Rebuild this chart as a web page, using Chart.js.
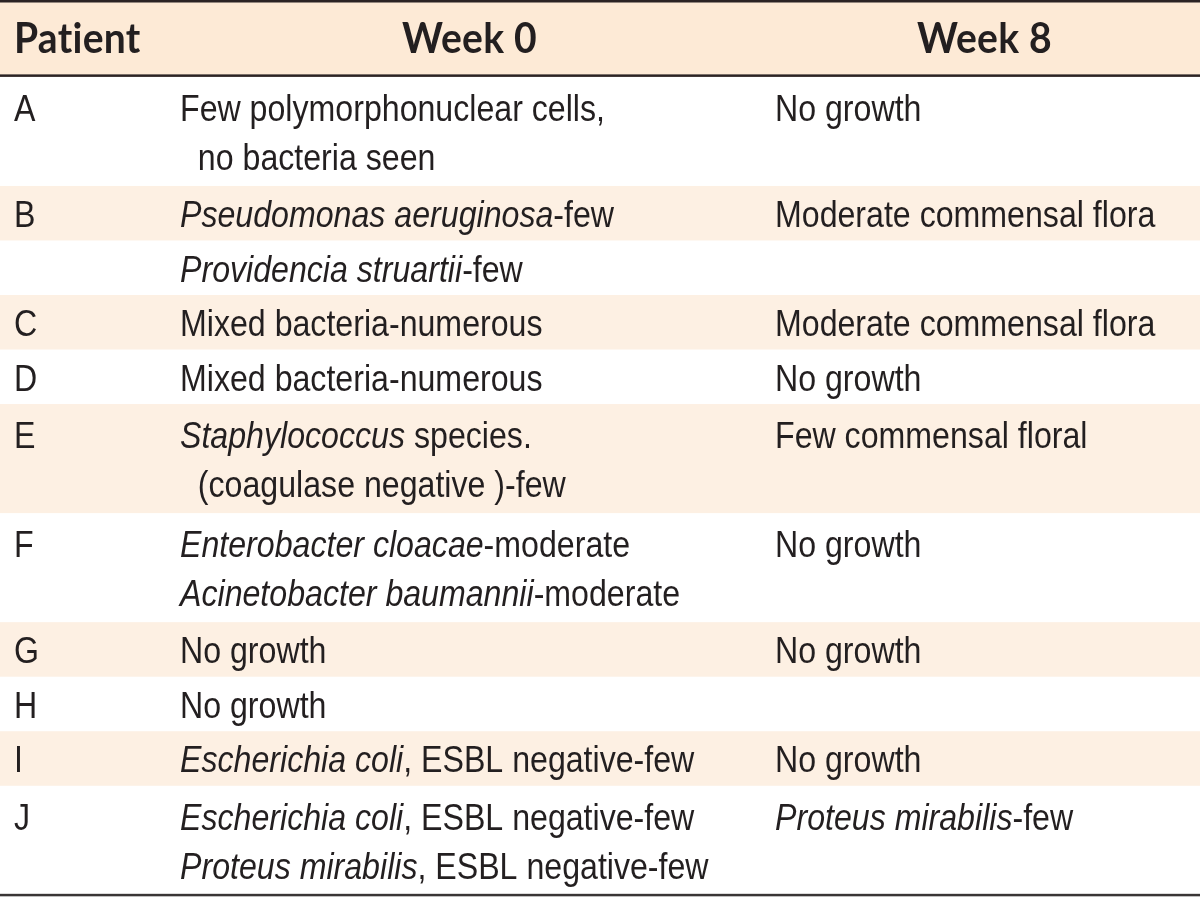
<!DOCTYPE html>
<html>
<head>
<meta charset="utf-8">
<script src="https://cdn.jsdelivr.net/npm/chart.js@4/dist/chart.umd.min.js"></script>
<style>
  html, body { margin: 0; padding: 0; background: #ffffff; }
  canvas { display: block; }
</style>
</head>
<body>
<canvas id="tableChart" width="1200" height="897"></canvas>
<script>
// column headers
const headerLabels = ["Patient", "Week 0", "Week 8"];

// one entry per shaded band; *...* marks italic text
const patients = ["A", "B", "", "C", "D", "E", "F", "G", "H", "I", "J"];
const week0 = [
  ["Few polymorphonuclear cells,", "  no bacteria seen"],
  ["*Pseudomonas aeruginosa*-few"],
  ["*Providencia struartii*-few"],
  ["Mixed bacteria-numerous"],
  ["Mixed bacteria-numerous"],
  ["*Staphylococcus* species.", "  (coagulase negative )-few"],
  ["*Enterobacter cloacae*-moderate", "*Acinetobacter baumannii*-moderate"],
  ["No growth"],
  ["No growth"],
  ["*Escherichia coli*, ESBL negative-few"],
  ["*Escherichia coli*, ESBL negative-few", "*Proteus mirabilis*, ESBL negative-few"]
];
const week8 = [
  ["No growth"],
  ["Moderate commensal flora"],
  [],
  ["Moderate commensal flora"],
  ["No growth"],
  ["Few commensal floral"],
  ["No growth"],
  ["No growth"],
  [],
  ["No growth"],
  ["*Proteus mirabilis*-few"]
];

// number of text lines each band takes (1 unit on the y scale per line)
const lineCounts = patients.map((p, i) => Math.max(1, week0[i].length, week8[i].length));
const totalLines = lineCounts.reduce((a, b) => a + b, 0);

const INK = "#231f20";
const BODY_FONT = '"Liberation Sans", Arial, sans-serif';
const HEAD_FONT = 'Lato, "Open Sans", sans-serif';

function drawRich(ctx, str, x, y, size, sx) {
  const parts = str.split("*");
  ctx.save();
  ctx.translate(x, y);
  ctx.scale(sx, 1);
  let cx = 0;
  parts.forEach((part, k) => {
    if (!part) return;
    ctx.font = (k % 2 === 1 ? "italic " : "") + size + "px " + BODY_FONT;
    ctx.fillText(part, cx, 0);
    cx += ctx.measureText(part).width;
  });
  ctx.restore();
}

const tablePlugin = {
  id: "tablePlugin",
  beforeDatasetsDraw(chart) {
    const ctx = chart.ctx;
    const xs = chart.scales.x;
    const ys = chart.scales.y;
    const left = xs.getPixelForValue(0);
    const right = xs.getPixelForValue(1200);
    const width = right - left;

    // header band
    const hTop = ys.getPixelForValue(ys.min);
    const hBot = ys.getPixelForValue(0);
    ctx.fillStyle = "#fdead6";
    ctx.fillRect(left, hTop, width, hBot - hTop);

    // body bands
    let start = 0;
    lineCounts.forEach((n, i) => {
      const y0 = ys.getPixelForValue(start);
      const y1 = ys.getPixelForValue(start + n);
      if (i % 2 === 1) {
        ctx.fillStyle = "#fdf0e3";
        ctx.fillRect(left, y0, width, y1 - y0);
      }
      start += n;
    });

    // rules
    ctx.fillStyle = "#2b2324";
    ctx.fillRect(left, hTop, width, 2.5);
    ctx.fillRect(left, hBot - 2.5, width, 2.5);
    ctx.fillStyle = "#3a3536";
    ctx.fillRect(left, ys.getPixelForValue(totalLines) - 1, width, 2.5);

    // header text (small letter spacing keeps "ti" from turning into a ligature)
    ctx.fillStyle = INK;
    ctx.textBaseline = "alphabetic";
    if ("letterSpacing" in ctx) ctx.letterSpacing = "0.3px";
    const headSize = 42;
    ctx.font = "bold " + headSize + "px " + HEAD_FONT;
    const headScale = 135 / ctx.measureText("Week 0").width;
    const headBase = (hTop + hBot) / 2 + 15;
    const headX = [14, 469.5, 984.5];
    headerLabels.forEach((lab, k) => {
      const w = ctx.measureText(lab).width * headScale;
      const x = k === 0 ? xs.getPixelForValue(headX[k]) : xs.getPixelForValue(headX[k]) - w / 2;
      ctx.save();
      ctx.translate(x, headBase);
      ctx.scale(headScale, 1);
      ctx.fillText(lab, 0, 0);
      ctx.restore();
    });
    if ("letterSpacing" in ctx) ctx.letterSpacing = "0px";

    // body text
    const size = 36;
    ctx.font = size + "px " + BODY_FONT;
    const bodyScale = 425 / ctx.measureText("Few polymorphonuclear cells,").width;
    const capHalf = 14;
    const lineStep = 0.9;
    const colX = [14, 180, 775];
    start = 0;
    lineCounts.forEach((n, i) => {
      const mid = start + n / 2;
      const lineY = (j, m) => ys.getPixelForValue(mid + (j - (m - 1) / 2) * lineStep) + capHalf;
      ctx.fillStyle = INK;
      if (patients[i]) drawRich(ctx, patients[i], xs.getPixelForValue(colX[0]), lineY(0, n), size, bodyScale);
      week0[i].forEach((t, j) => drawRich(ctx, t, xs.getPixelForValue(colX[1]), lineY(j, n), size, bodyScale));
      week8[i].forEach((t, j) => drawRich(ctx, t, xs.getPixelForValue(colX[2]), lineY(j, n), size, bodyScale));
      start += n;
    });
  }
};

new Chart(document.getElementById("tableChart"), {
  type: "scatter",
  data: { datasets: [{ data: [] }] },
  options: {
    responsive: false,
    animation: false,
    devicePixelRatio: 1,
    layout: { padding: 0 },
    plugins: { legend: { display: false }, tooltip: { enabled: false } },
    scales: {
      x: { type: "linear", min: 0, max: 1200, display: false },
      y: { type: "linear", min: -1.41, max: totalLines + 0.04, reverse: true, display: false }
    }
  },
  plugins: [tablePlugin]
});
</script>
</body>
</html>
